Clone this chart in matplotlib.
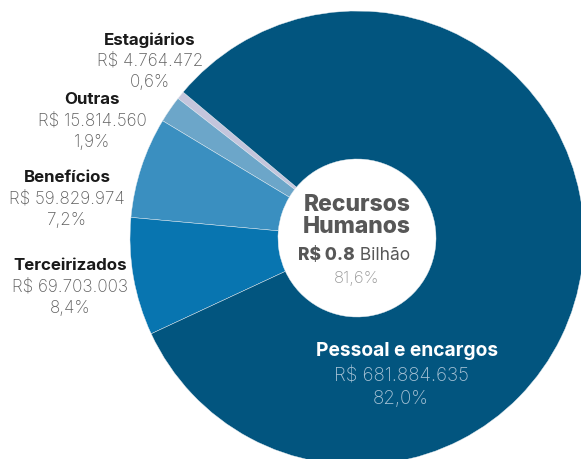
import matplotlib
matplotlib.use("Agg")
import matplotlib.pyplot as plt

categories = ["Estagiários", "Outras", "Benefícios", "Terceirizados", "Pessoal e encargos"]
values = [4764472, 15814560, 59829974, 69703003, 681884635]
value_labels = ["R$ 4.764.472", "R$ 15.814.560", "R$ 59.829.974", "R$ 69.703.003", "R$ 681.884.635"]
pct_labels = ["0,6%", "1,9%", "7,2%", "8,4%", "82,0%"]
colors = ["#c4c5dc", "#6ca6c9", "#3a8fc0", "#0875b0", "#02557f"]

center_title = "Recursos\nHumanos"
center_value_bold = "R$ 0.8"
center_value_rest = " Bilhão"
center_pct = "81,6%"

W, H = 581, 460
fig = plt.figure(figsize=(W / 100, H / 100), dpi=100)
ax = fig.add_axes([0, 0, 1, 1])

cx, cy = 357, H - 239
R, r_in = 227, 79
ax.pie(values, colors=colors, center=(cx, cy), radius=R, startangle=140,
       counterclock=True,
       wedgeprops=dict(width=R - r_in, edgecolor="#e8eef3", linewidth=0.3))
ax.set_xlim(0, W)
ax.set_ylim(0, H)
ax.set_aspect("equal")
ax.axis("off")

FONT = "Inter"

def py(y):
    return H - y

# side labels (first four categories)
label_pos = [(150, 40), (92, 100), (67, 178), (70, 266)]
for i, (x, y) in enumerate(label_pos):
    ax.text(x, py(y), categories[i], ha="center", va="center", fontsize=12.2,
            fontweight="bold", color="#1a1a1a", family=FONT)
    ax.text(x, py(y + 21), value_labels[i], ha="center", va="center", fontsize=12.3,
            fontweight="light", color="#5f5f5f", family=FONT)
    ax.text(x, py(y + 43), pct_labels[i], ha="center", va="center", fontsize=12.3,
            fontweight="light", color="#5f5f5f", family=FONT)

# Pessoal label on the wedge
ax.text(407, py(351), categories[4], ha="center", va="center", fontsize=13.8,
        fontweight="bold", color="white", family=FONT)
ax.text(401, py(377), value_labels[4], ha="center", va="center", fontsize=13.5,
        fontweight="light", color="#a8c3d6", family=FONT)
ax.text(401, py(399), pct_labels[4], ha="center", va="center", fontsize=13.5,
        fontweight="light", color="#a8c3d6", family=FONT)

# center text
ax.text(cx, py(216), center_title, ha="center", va="center", fontsize=16.5,
        fontweight="heavy", color="#575757", family=FONT, linespacing=0.95)
ax.text(cx - 2, py(256), center_value_bold, ha="right", va="center", fontsize=12.5,
        fontweight="heavy", color="#575757", family=FONT)
ax.text(cx - 2, py(256), center_value_rest, ha="left", va="center", fontsize=12.5,
        fontweight="normal", color="#575757", family=FONT)
ax.text(cx, py(279), center_pct, ha="center", va="center", fontsize=12,
        fontweight="light", color="#9a9a9a", family=FONT)

fig.savefig("out.png", dpi=100)
